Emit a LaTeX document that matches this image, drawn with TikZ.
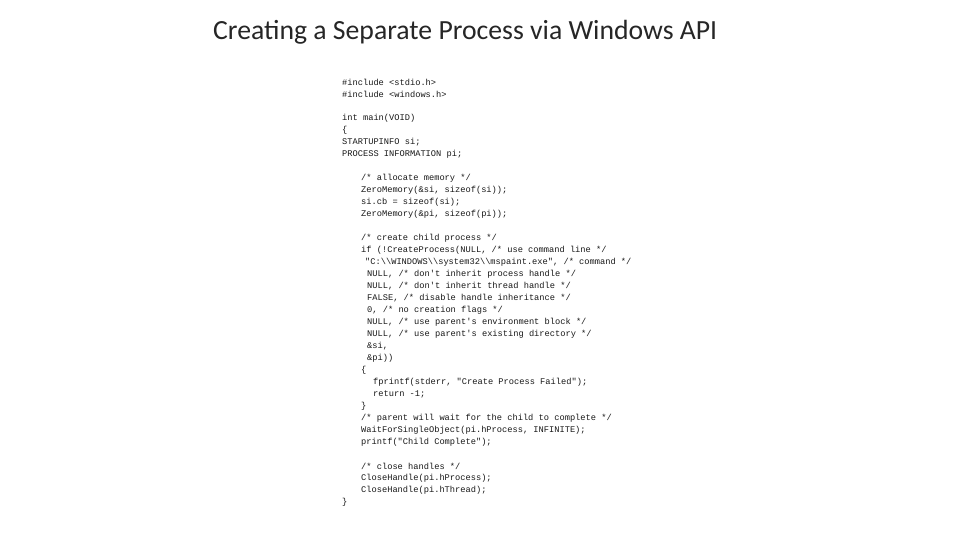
\documentclass[tikz,border=0pt]{standalone}
\usepackage{fontspec}
\setmainfont{Carlito}
\newfontfamily\codefont{Liberation Mono}
\newcommand{\cl}[4]{\node[codeline] (#1) at (#2,#3) {#4};}
\begin{document}
\begin{tikzpicture}[x=1pt,y=-1pt,
  codeline/.style={anchor=west,inner sep=0pt,font=\codefont\fontsize{8.7}{10}\selectfont,text=black!90},
  titlestyle/.style={inner sep=0pt,font=\fontsize{22.5}{26}\selectfont,text=black!85}]
\useasboundingbox[fill=white] (0,0) rectangle (960,540);
\node[titlestyle,anchor=west] (title) at (213,32) {\resizebox{504pt}{!}{Creating a Separate Process via Windows API}};
\cl{a1}{342}{82}{\#include <stdio.h>}
\cl{a2}{342}{94}{\#include <windows.h>}
\cl{a3}{342}{118}{int main(VOID)}
\cl{a4}{342}{130}{\{}
\cl{a5}{342}{142}{STARTUPINFO si;}
\cl{a6}{342}{154}{PROCESS INFORMATION pi;}
\cl{a7}{361}{178}{/* allocate memory */}
\cl{a8}{361}{190}{ZeroMemory(\&si, sizeof(si));}
\cl{a9}{361}{202}{si.cb = sizeof(si);}
\cl{a10}{361}{214}{ZeroMemory(\&pi, sizeof(pi));}
\cl{a11}{361}{238}{/* create child process */}
\cl{a12}{361}{250}{if (!CreateProcess(NULL, /* use command line */}
\cl{a13}{365}{262}{"C:\textbackslash\textbackslash WINDOWS\textbackslash\textbackslash system32\textbackslash\textbackslash mspaint.exe", /* command */}
\cl{a14}{367}{274}{NULL, /* don't inherit process handle */}
\cl{a15}{367}{286}{NULL, /* don't inherit thread handle */}
\cl{a16}{367}{298}{FALSE, /* disable handle inheritance */}
\cl{a17}{367}{310}{0, /* no creation flags */}
\cl{a18}{367}{322}{NULL, /* use parent's environment block */}
\cl{a19}{367}{334}{NULL, /* use parent's existing directory */}
\cl{a20}{367}{346}{\&si,}
\cl{a21}{367}{358}{\&pi))}
\cl{a22}{361}{370}{\{}
\cl{a23}{373}{382}{fprintf(stderr, "Create Process Failed");}
\cl{a24}{373}{394}{return -1;}
\cl{a25}{361}{406}{\}}
\cl{a26}{361}{418}{/* parent will wait for the child to complete */}
\cl{a27}{361}{430}{WaitForSingleObject(pi.hProcess, INFINITE);}
\cl{a28}{361}{442}{printf("Child Complete");}
\cl{a29}{361}{466}{/* close handles */}
\cl{a30}{361}{478}{CloseHandle(pi.hProcess);}
\cl{a31}{361}{490}{CloseHandle(pi.hThread);}
\cl{a32}{342}{502}{\}}
\end{tikzpicture}
\end{document}
